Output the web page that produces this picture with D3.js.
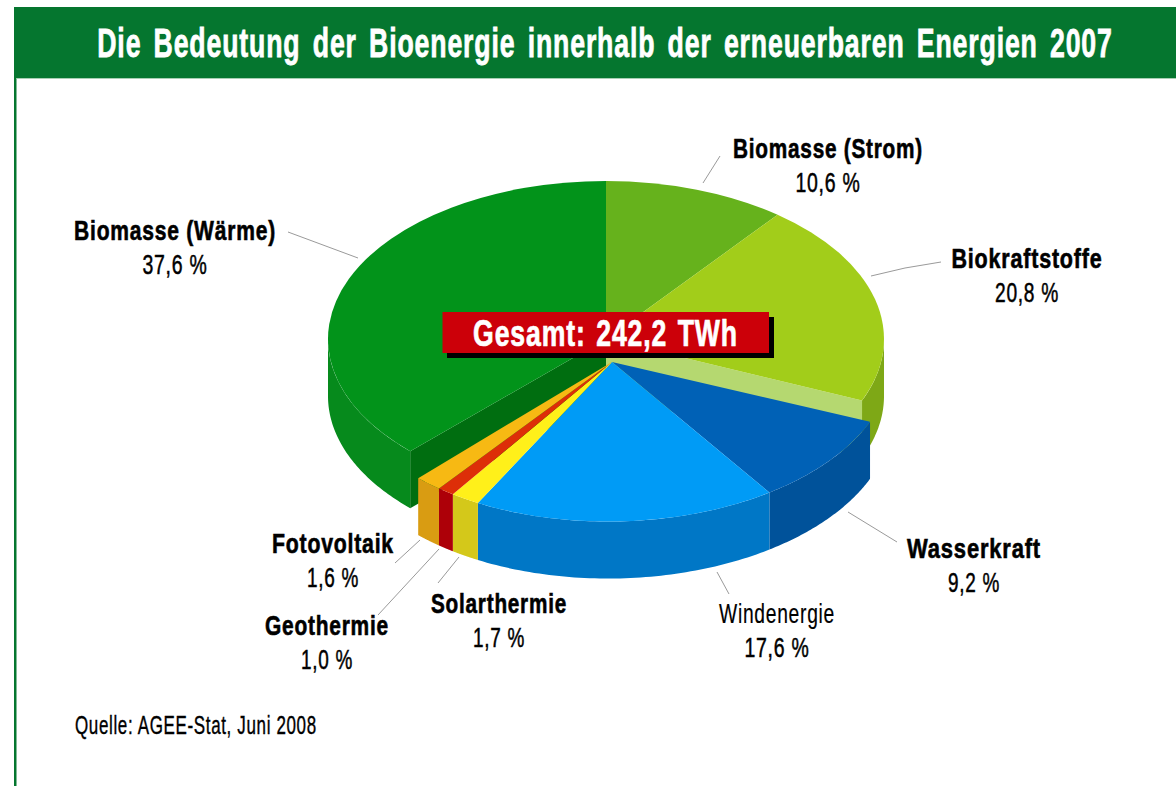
<!DOCTYPE html>
<html><head><meta charset="utf-8">
<script src="https://cdn.jsdelivr.net/npm/d3@7/dist/d3.min.js"></script>
<style>
html,body{margin:0;padding:0;background:#fff;overflow:hidden}
text{font-family:"Liberation Sans Narrow","Liberation Sans",sans-serif}
</style></head><body><svg id="c" width="1176" height="786"></svg>
<script>
const categories=["Biomasse (Strom)","Biokraftstoffe","Wasserkraft","Windenergie","Solarthermie","Geothermie","Fotovoltaik","Biomasse (Wärme)"];
const shares=[10.6,20.8,9.2,17.6,1.7,1.0,1.6,37.6];
const shareLabels=["10,6 %","20,8 %","9,2 %","17,6 %","1,7 %","1,0 %","1,6 %","37,6 %"];
const titleText="Die Bedeutung der Bioenergie innerhalb der erneuerbaren Energien 2007";
const totalText="Gesamt: 242,2 TWh";
const sourceText="Quelle: AGEE-Stat, Juni 2008";

const topColors=["#66b21c","#a2cd1a","#0061b6","#009bf6","#fff01a","#dd2e08","#f7b913","#02931a"];
const wallColors=["#5a9e18","#7ea816","#00529a","#0077c6","#d4c81a","#ad0008","#d99c12","#068a1c"];
const exploded=[false,false,true,true,true,true,true,false];
const green="#05762f";

// layout
const cx=606,cy=339,rx=278,ry=158,depth=57,shift={x:8,y:24.5},tilt=3.5;
const labelLayout=[
 {x:828,y:158,w:190,vw:65,bold:true,leader:[[703,183],[720,156]]},
 {x:1027,y:268,w:151,vw:64,bold:true,leader:[[871,276],[905,268],[941,262]]},
 {x:974,y:558,w:134,vw:52,bold:true,leader:[[848,512],[897,542]]},
 {x:777,y:623,w:116,vw:65,bold:false,leader:[[717,572],[729,594]]},
 {x:499,y:613,w:136,vw:52,bold:true,leader:[[459,557],[438,583]]},
 {x:327,y:635,w:124,vw:52,bold:true,leader:[[439,549],[378,615]]},
 {x:333,y:553,w:122,vw:52,bold:true,leader:[[420,540],[395,563]]},
 {x:175,y:240,w:202,vw:65,bold:true,leader:[[288,232],[358,258]]}
];

const svg=d3.select("#c");
// place a text at (x,y), squeezed horizontally to the wanted width
function fit(sel,x,y,width){
  const s=width/sel.node().getComputedTextLength();
  return sel.attr("transform",`translate(${x},${y}) scale(${s},1)`);
}
svg.append("rect").attr("x",14).attr("y",7).attr("width",1162).attr("height",71).attr("fill",green);
svg.append("rect").attr("x",14).attr("y",78).attr("width",2.5).attr("height",708).attr("fill",green);
svg.append("rect").attr("x",16.5).attr("y",78).attr("width",1160).attr("height",1).attr("fill","#a8d0b4");
fit(svg.append("text").attr("text-anchor","middle").attr("font-size",40).attr("font-weight",700)
  .attr("fill","#fff").attr("stroke","#fff").attr("stroke-width",.8)
  .style("letter-spacing","1.3px").style("word-spacing","6px").text(titleText),605,57,1016);

const arcs=d3.pie().sort(null).value(d=>d)(shares);
const rim=a=>[rx*Math.sin(a),-ry*Math.cos(a)];
const rimTilted=a=>{const p=rim(a);return [p[0],p[1]-tilt*Math.sin(a)];};
const line=d3.line();
function wallPath(a0,a1,fn){
  const s=Math.max(a0,Math.PI/2),e=Math.min(a1,3*Math.PI/2);
  if(e<=s) return null;
  const as=d3.range(0,61).map(i=>s+(e-s)*i/60);
  const up=as.map(fn), dn=as.map(fn).reverse().map(p=>[p[0],p[1]+depth]);
  return line(up.concat(dn))+"Z";
}
const arcGen=d3.arc().innerRadius(0).outerRadius(rx);
const pieG=svg.append("g");

const cutFace=(a,fill)=>{
  const p=rim(a);
  pieG.append("path").attr("transform",`translate(${cx},${cy})`)
    .attr("d",line([[0,0],p,[p[0],p[1]+depth],[0,depth]])+"Z").attr("fill",fill);
};
// solid back pieces: walls, cut faces, tops
arcs.forEach((d,i)=>{
  if(exploded[i]) return;
  const w=wallPath(d.startAngle,d.endAngle,rim);
  if(i===7) cutFace(d.startAngle,"#006e10");
  if(i===1) cutFace(d.endAngle,"#b5d870");
  if(w) pieG.append("path").attr("transform",`translate(${cx},${cy})`).attr("d",w).attr("fill",wallColors[i]);
});
arcs.forEach((d,i)=>{
  if(exploded[i]) return;
  pieG.append("path").attr("transform",`translate(${cx},${cy}) scale(1,${ry/rx})`)
    .attr("d",arcGen(d)).attr("fill",topColors[i]);
});
// pulled-out slices: rim shifted, converging on a common apex near the axis
arcs.forEach((d,i)=>{
  if(!exploded[i]) return;
  const w=wallPath(d.startAngle,d.endAngle,rimTilted);
  pieG.append("path").attr("transform",`translate(${cx+shift.x},${cy+shift.y})`).attr("d",w).attr("fill",wallColors[i]);
  const as=d3.range(0,41).map(k=>d.startAngle+(d.endAngle-d.startAngle)*k/40);
  const pts=[[-2,-1.5]].concat(as.map(rimTilted));
  pieG.append("path").attr("transform",`translate(${cx+shift.x},${cy+shift.y})`)
    .attr("d",line(pts)+"Z").attr("fill",topColors[i]);
});

// leaders and labels
const lab=svg.append("g");
labelLayout.forEach((l,i)=>{
  lab.append("path").attr("d",line(l.leader)).attr("fill","none").attr("stroke","#9a9a9a").attr("stroke-width",1);
  fit(lab.append("text").attr("text-anchor","middle").attr("font-size",27)
    .attr("font-weight",l.bold?700:400).attr("fill","#000").attr("stroke","#000").attr("stroke-width",l.bold?.6:.2)
    .style("letter-spacing","1px").text(categories[i]),l.x,l.y,l.w);
  fit(lab.append("text").attr("text-anchor","middle").attr("font-size",27)
    .attr("fill","#000").attr("stroke","#000").attr("stroke-width",.5)
    .style("letter-spacing","1px").text(shareLabels[i]),l.x,l.y+34,l.vw);
});

// total box
svg.append("rect").attr("x",447).attr("y",317).attr("width",327).attr("height",41).attr("fill","#000");
svg.append("rect").attr("x",442.5).attr("y",312).attr("width",326.5).attr("height",41).attr("fill","#cc0009");
fit(svg.append("text").attr("text-anchor","middle").attr("font-size",36).attr("font-weight",700)
  .attr("fill","#fff").attr("stroke","#fff").attr("stroke-width",.7)
  .style("letter-spacing","1.2px").style("word-spacing","3px").text(totalText),605.5,346,265);
fit(svg.append("text").attr("font-size",26).attr("fill","#000").attr("stroke","#000").attr("stroke-width",.4)
  .style("letter-spacing","1px").text(sourceText),75,734,242);
</script></body></html>
